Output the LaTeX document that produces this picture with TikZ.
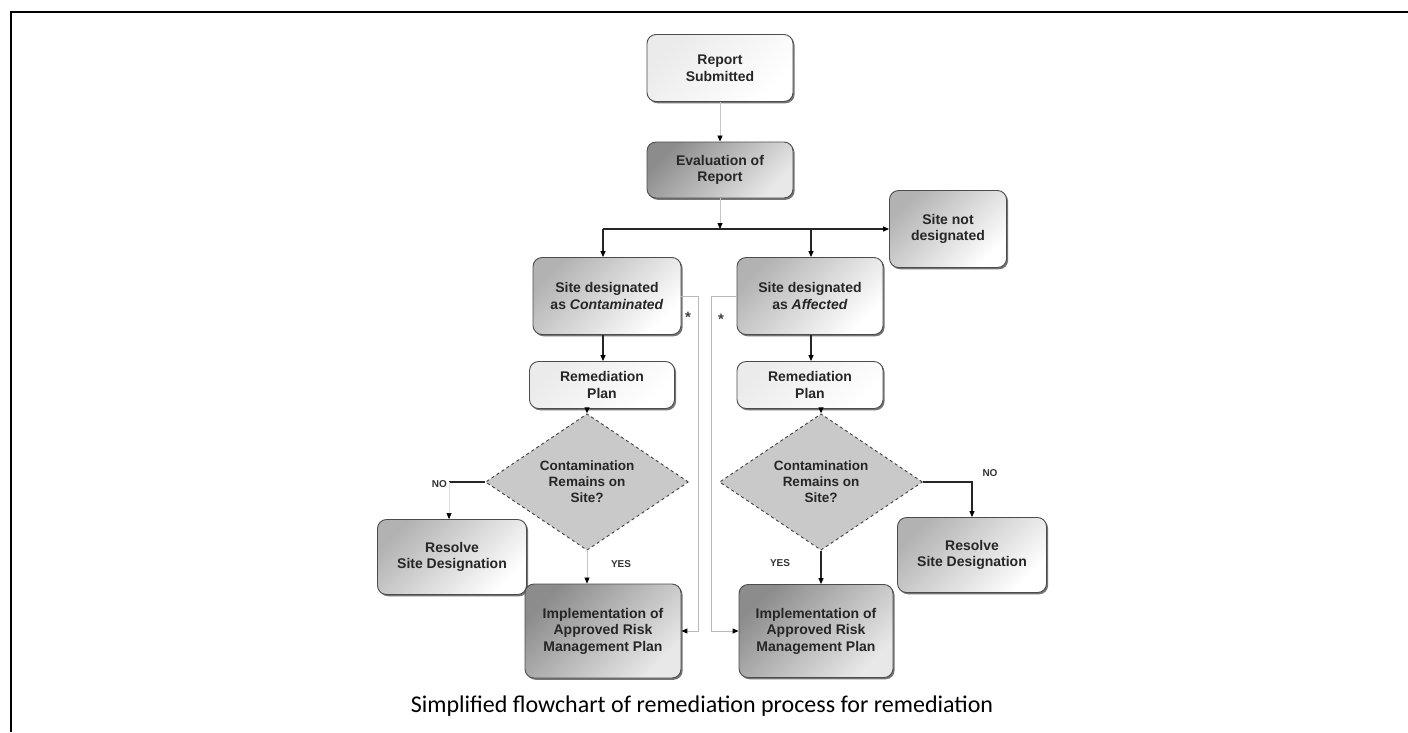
\documentclass[tikz,border=0pt]{standalone}
\usepackage{fontspec}
\setmainfont{Liberation Sans}
\newfontfamily\capfont{Carlito}
\usetikzlibrary{shapes.geometric,arrows.meta,shadows}

\begin{document}
\begin{tikzpicture}[x=1pt,y=-1pt,
  box/.style={rectangle, rounded corners=9pt, draw=black!70, line width=0.9pt,
    align=center, font=\fontsize{14}{16.5}\selectfont\bfseries, text=black!85,
    inner sep=2pt,
    drop shadow={shadow xshift=1.6pt, shadow yshift=-1.8pt, fill=black!60, opacity=0.9}},
  lightbox/.style={box, top color=gray!16, bottom color=white, shading angle=45},
  midbox/.style={box, top color=gray!60, bottom color=white, shading angle=45},
  darkbox/.style={box, top color=gray!90, bottom color=gray!18, shading angle=45},
  decision/.style={diamond, draw=black!75, dashed, line width=0.9pt, fill=gray!42,
    inner sep=0pt, align=center, font=\fontsize{13.5}{16}\selectfont\bfseries,
    text=black!85, minimum width=203pt, minimum height=105pt},
  tipstyle/.style={-{Triangle[length=6pt,width=5pt,color=black]}},
  flow/.style={line width=1.2pt, draw=black!85, tipstyle},
  faint/.style={line width=0.8pt, draw=gray!45, tipstyle},
  cross/.style={line width=1pt, draw=gray!55, tipstyle},
  tag/.style={font=\fontsize{10}{12}\selectfont\bfseries, text=black!80, inner sep=0pt},
  star/.style={font=\fontsize{15}{15}\selectfont\bfseries, text=black!75, inner sep=0pt}
]
\useasboundingbox (0,0) rectangle (1408,732);

% frame lines along the top and left
\draw[line width=2.6pt] (11,732) -- (11,12) -- (1408,12);

% process boxes
\node[lightbox, minimum width=146pt, minimum height=67pt] (rep)  at (720,68)  {Report\\Submitted};
\node[darkbox,  minimum width=146pt, minimum height=56pt] (eval) at (720,170) {Evaluation of\\Report};
\node[midbox,   minimum width=117pt, minimum height=77pt] (snd)  at (948,229) {Site not\\designated};
\node[midbox,   minimum width=148pt, minimum height=77pt] (sdc)  at (607,296) {Site designated\\as \textit{Contaminated}};
\node[midbox,   minimum width=146pt, minimum height=77pt] (sda)  at (810,296) {Site designated\\as \textit{Affected}};
\node[lightbox, minimum width=145pt, minimum height=47pt] (rpl)  at (602,385) {Remediation\\Plan};
\node[lightbox, minimum width=146pt, minimum height=47pt] (rpr)  at (810,385) {Remediation\\Plan};
\node[decision] (dl) at (587,482) {Contamination\\Remains on\\Site?};
\node[decision] (dr) at (821,482) {Contamination\\Remains on\\Site?};
\node[midbox,   minimum width=149pt, minimum height=75pt] (resl) at (452,557) {Resolve\\Site Designation};
\node[midbox,   minimum width=149pt, minimum height=75pt] (resr) at (972,555) {Resolve\\Site Designation};
\node[darkbox,  minimum width=156pt, minimum height=94pt] (impl) at (603,631) {Implementation of\\Approved Risk\\Management Plan};
\node[darkbox,  minimum width=154pt, minimum height=93pt] (impr) at (816,631) {Implementation of\\Approved Risk\\Management Plan};

% junction points
\coordinate (jn) at (720,229);
\coordinate (jl) at (603,229);
\coordinate (jm) at (811,229);
\coordinate (nol) at (449,482);
\coordinate (nor) at (972,482);
\coordinate (xl) at (698,0);
\coordinate (xr) at (711,0);

% main flow
\draw[faint] (rep) -- (eval);
\draw[faint] (eval) -- (jn);
\draw[flow] (jl) -- (snd.west);
\draw[flow] (jl) -- (jl |- sdc.north);
\draw[flow] (jm) -- (jm |- sda.north);
\draw[flow] (jl |- sdc.south) -- (jl |- rpl.north);
\draw[flow] (jm |- sda.south) -- (jm |- rpr.north);
\draw[flow] (dl.north |- rpl.south) -- (dl.north);
\draw[flow] (dr.north |- rpr.south) -- (dr.north);

% decision outcomes, left
\draw[line width=1.2pt, black!85] (dl.west) -- (nol);
\draw[line width=0.6pt, draw=gray!25, tipstyle] (nol) -- (nol |- resl.north);
\node[tag, anchor=east] (nolbl) at (447,484) {NO};
\draw[faint] (dl.south) -- (dl.south |- impl.north);
\node[tag] (yesl) at (621,564) {YES};

% decision outcomes, right
\draw[flow] (dr.east) -- (nor) -- (resr.north);
\node[tag] (nolbr) at (990,473) {NO};
\draw[flow] (dr.south) -- (dr.south |- impr.north);
\node[tag] (yesr) at (780,563) {YES};

% cross links between the two branches
\draw[cross] (sdc.east) -- (sdc.east -| xl) -- (impl.east -| xl) -- (impl.east);
\draw[cross] (sda.west) -- (sda.west -| xr) -- (impr.west -| xr) -- (impr.west);
\node[star] (stl) at (688,317) {*};
\node[star] (str) at (721,319) {*};

% caption
\node[font=\capfont\fontsize{24}{28}\selectfont, inner sep=0pt] (cap) at (702,706)
  {Simplified flowchart of remediation process for remediation};
\end{tikzpicture}
\end{document}
